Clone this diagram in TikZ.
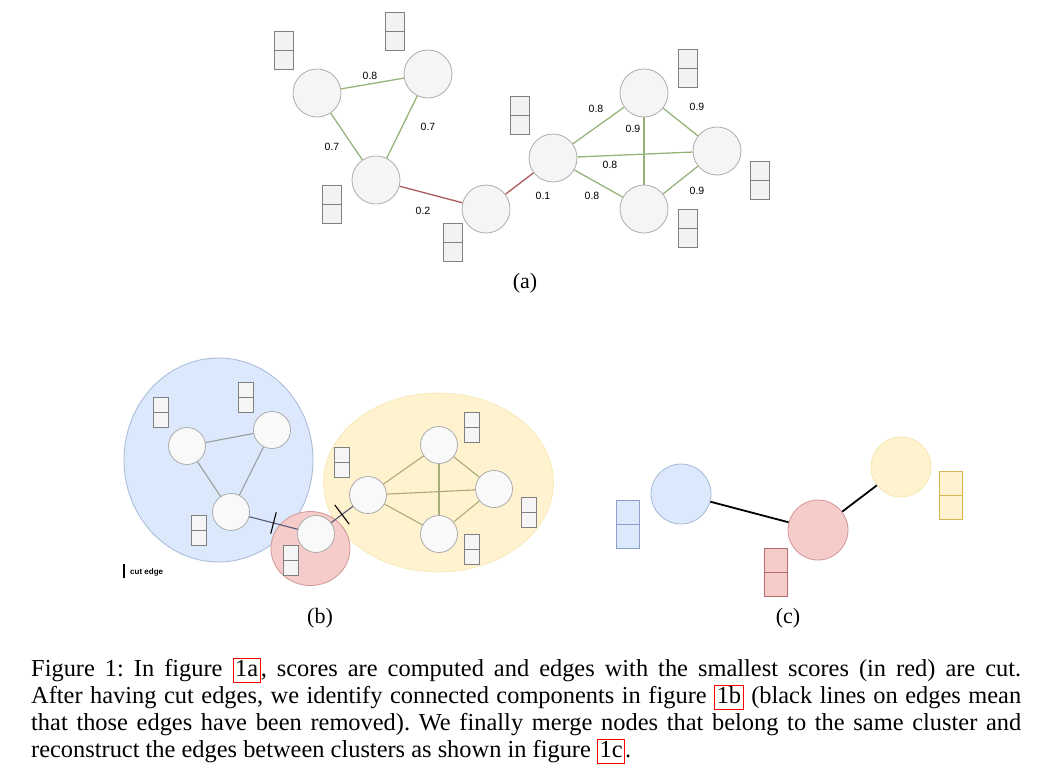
\documentclass[tikz,border=0pt]{standalone}
\usepackage{fontspec}
\setmainfont{Liberation Serif}
\newfontfamily\labelfont{Liberation Sans}
\usetikzlibrary{calc}

\definecolor{vertfill}{RGB}{245,245,245}
\definecolor{vertline}{RGB}{172,172,172}
\definecolor{featfill}{RGB}{242,242,242}
\definecolor{featline}{RGB}{128,128,128}
\definecolor{highscore}{RGB}{150,180,122}
\definecolor{lowscore}{RGB}{172,90,90}
\definecolor{blueclu}{RGB}{220,232,251}
\definecolor{blueline}{RGB}{165,185,215}
\definecolor{redclu}{RGB}{246,204,202}
\definecolor{redline}{RGB}{208,152,152}
\definecolor{yellowclu}{RGB}{255,242,206}
\definecolor{yellowline}{RGB}{246,230,178}
\definecolor{blueedge}{RGB}{150,158,150}
\definecolor{yellowedge}{RGB}{168,172,122}
\definecolor{cutedge}{RGB}{88,88,118}
\definecolor{bluefeat}{RGB}{140,160,200}
\definecolor{redfeat}{RGB}{180,110,110}
\definecolor{yellowfeat}{RGB}{214,182,86}

% red link frame of the caption
\newcommand{\figref}[1]{{\setlength{\fboxsep}{0pt}\setlength{\fboxrule}{0.8pt}%
  \fcolorbox{red}{white}{\rule[-6pt]{0pt}{23pt}\kern1.8pt#1\kern1.8pt}}}

\begin{document}
\frenchspacing
\begin{tikzpicture}[x=1pt, y=-1pt,
        vert/.style={draw=vertline, fill=vertfill, circle, inner sep=0pt, minimum size=48pt, line width=0.8pt},
        smallvert/.style={vert, minimum size=37pt, fill=vertfill!60!white},
        bigvert/.style={vert, minimum size=60pt},
        feat/.style 2 args={draw=#2, fill=#1, rectangle, inner sep=0pt, minimum width=19pt, minimum height=38pt, line width=0.7pt,
            path picture={\draw[#2, line width=0.7pt] (path picture bounding box.west) -- (path picture bounding box.east);}},
        smallfeat/.style 2 args={feat={#1}{#2}, minimum width=15pt, minimum height=30pt},
        bigfeat/.style 2 args={feat={#1}{#2}, minimum width=23pt, minimum height=48pt},
        high/.style={draw=highscore, line width=1.3pt},
        low/.style={draw=lowscore, line width=1.3pt},
        score/.style={font=\labelfont\fontsize{10.5}{12}\selectfont, inner sep=0pt},
        sublabel/.style={font=\fontsize{22}{24}\selectfont, inner sep=0pt},
        caption/.style={font=\fontsize{24.4}{27}\selectfont, inner sep=0pt, anchor=base west},
        cutmark/.style={draw=black, line width=1.1pt},
        merged/.style={draw=black, line width=1.8pt}
    ]
        \useasboundingbox (0,0) rectangle (1039,774);

        % (a) scored graph
        \node[vert] (aleft) at (317,93) {};
        \node[vert] (atop) at (428,74) {};
        \node[vert] (amid) at (376,180) {};
        \node[vert] (abridge) at (486,209) {};
        \node[vert] (ahub) at (553,158) {};
        \node[vert] (aupper) at (644,93) {};
        \node[vert] (aright) at (717,151) {};
        \node[vert] (alower) at (644,209) {};

        \node[feat={featfill}{featline}] (aleftfeat) at (283.5,50) {};
        \node[feat={featfill}{featline}] (atopfeat) at (394.5,31) {};
        \node[feat={featfill}{featline}] (amidfeat) at (332,204) {};
        \node[feat={featfill}{featline}] (abridgefeat) at (452.5,242.5) {};
        \node[feat={featfill}{featline}] (ahubfeat) at (519.5,115) {};
        \node[feat={featfill}{featline}] (aupperfeat) at (687.5,68.5) {};
        \node[feat={featfill}{featline}] (arightfeat) at (759.5,180) {};
        \node[feat={featfill}{featline}] (alowerfeat) at (687.5,228.5) {};

        \draw[high] (aleft) -- (atop);
        \draw[high] (aleft) -- (amid);
        \draw[high] (atop) -- (amid);
        \draw[low] (amid) -- (abridge);
        \draw[low] (abridge) -- (ahub);
        \draw[high] (ahub) -- (aupper);
        \draw[high] (ahub) -- (aright);
        \draw[high] (ahub) -- (alower);
        \draw[high] (aupper) -- (alower);
        \draw[high] (aupper) -- (aright);
        \draw[high] (alower) -- (aright);

        \node[score] (sleftop) at (370,76) {0.8};
        \node[score] (sleftmid) at (332,147) {0.7};
        \node[score] (stopmid) at (428,127) {0.7};
        \node[score] (smidbridge) at (423,211) {0.2};
        \node[score] (sbridgehub) at (543,196) {0.1};
        \node[score] (shubupper) at (596,109) {0.8};
        \node[score] (supperlower) at (633,129) {0.9};
        \node[score] (shubright) at (610,165) {0.8};
        \node[score] (shublower) at (592,196) {0.8};
        \node[score] (supperright) at (697,107) {0.9};
        \node[score] (slowerright) at (697,191) {0.9};

        \node[sublabel] (labela) at (525,283) {(a)};

        % (b) connected components
        \fill[blueclu, draw=blueline, line width=0.8pt] (218.5,460) ellipse [x radius=94.5, y radius=102];
        \fill[yellowclu, draw=yellowline, line width=0.6pt] (438.5,482.5) ellipse [x radius=115, y radius=89.5];
        \fill[redclu, draw=redline, line width=0.8pt] (310.5,548.5) ellipse [x radius=39.5, y radius=37];

        \node[smallvert] (bleft) at (187,446) {};
        \node[smallvert] (bright) at (272,430) {};
        \node[smallvert] (bsouth) at (231,512) {};
        \node[smallvert] (bred) at (316,534) {};
        \node[smallvert] (ywest) at (368,495) {};
        \node[smallvert] (ynorth) at (439,445) {};
        \node[smallvert] (yeast) at (494,489) {};
        \node[smallvert] (ysouth) at (439,534) {};

        \node[smallfeat={vertfill}{featline}] (bleftfeat) at (160.5,412) {};
        \node[smallfeat={vertfill}{featline}] (brightfeat) at (245.5,397) {};
        \node[smallfeat={vertfill}{featline}] (bsouthfeat) at (198.5,530) {};
        \node[smallfeat={vertfill}{featline}] (bredfeat) at (291,560) {};
        \node[smallfeat={vertfill}{featline}] (ywestfeat) at (342,462) {};
        \node[smallfeat={vertfill}{featline}] (ynorthfeat) at (471.5,427) {};
        \node[smallfeat={vertfill}{featline}] (yeastfeat) at (528.5,512) {};
        \node[smallfeat={vertfill}{featline}] (ysouthfeat) at (471.5,549.5) {};

        \draw[draw=blueedge, line width=1.1pt] (bleft) -- (bright);
        \draw[draw=blueedge, line width=1.1pt] (bleft) -- (bsouth);
        \draw[draw=blueedge, line width=1.1pt] (bright) -- (bsouth);
        \draw[draw=cutedge, line width=1.1pt] (bsouth) -- (bred);
        \draw[draw=cutedge, line width=1.1pt] (bred) -- (ywest);
        \draw[draw=yellowedge, line width=1.1pt] (ywest) -- (ynorth);
        \draw[draw=yellowedge, line width=1.1pt] (ywest) -- (yeast);
        \draw[draw=yellowedge, line width=1.1pt] (ywest) -- (ysouth);
        \draw[draw=yellowedge, line width=1.1pt] (ynorth) -- (ysouth);
        \draw[draw=yellowedge, line width=1.1pt] (ynorth) -- (yeast);
        \draw[draw=yellowedge, line width=1.1pt] (ysouth) -- (yeast);

        \coordinate (cutone) at ($(bsouth)!0.5!(bred)$);
        \coordinate (cuttwo) at ($(bred)!0.5!(ywest)$);
        \draw[cutmark] ($(cutone)!11pt!90:(bred)$) -- ($(cutone)!11pt!-90:(bred)$);
        \draw[cutmark] ($(cuttwo)!12pt!90:(ywest)$) -- ($(cuttwo)!12pt!-90:(ywest)$);

        \coordinate (keytop) at (124,564);
        \coordinate (keybottom) at (124,578);
        \draw[cutmark] (keytop) -- (keybottom);
        \node[font=\labelfont\bfseries\fontsize{8}{9}\selectfont, inner sep=0pt, anchor=west] (keytext) at (130,572) {cut edge};

        \node[sublabel] (labelb) at (320,618) {(b)};

        % (c) merged clusters
        \node[bigvert, fill=blueclu, draw=blueline] (cblue) at (681,494) {};
        \node[bigvert, fill=redclu, draw=redline] (cred) at (818,530) {};
        \node[bigvert, fill=yellowclu, draw=yellowline] (cyellow) at (901,467) {};

        \node[bigfeat={blueclu}{bluefeat}] (cbluefeat) at (627.5,524) {};
        \node[bigfeat={redclu}{redfeat}] (credfeat) at (776,572) {};
        \node[bigfeat={yellowclu}{yellowfeat}] (cyellowfeat) at (950.5,495.5) {};

        \draw[merged] (cblue) -- (cred);
        \draw[merged] (cred) -- (cyellow);

        \node[sublabel] (labelc) at (788,618) {(c)};

        % caption
        \node[caption] (capone) at (31,676) {\makebox[990pt][s]{Figure 1: In figure \figref{1a}, scores are computed and edges with the smallest scores (in red) are cut.}};
        \node[caption] (captwo) at (31,703) {\makebox[990pt][s]{After having cut edges, we identify connected components in figure \figref{1b} (black lines on edges mean}};
        \node[caption] (capthree) at (31,730) {\makebox[990pt][s]{that those edges have been removed). We finally merge nodes that belong to the same cluster and}};
        \node[caption] (capfour) at (31,757) {reconstruct the edges between clusters as shown in figure \figref{1c}.};
    \end{tikzpicture}
\end{document}
